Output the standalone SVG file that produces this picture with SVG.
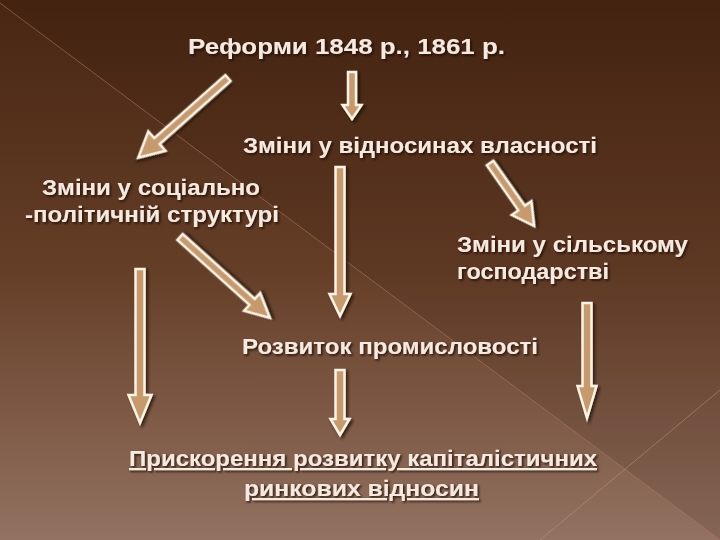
<svg xmlns="http://www.w3.org/2000/svg" width="720" height="540" viewBox="0 0 720 540">
  <defs>
    <linearGradient id="bg" x1="0" y1="0" x2="0" y2="1">
      <stop offset="0" stop-color="#472612"/>
      <stop offset="0.5" stop-color="#653e27"/>
      <stop offset="1" stop-color="#937261"/>
    </linearGradient>
    <filter id="shadow" x="-30%" y="-30%" width="160%" height="160%">
      <feDropShadow dx="2" dy="2" stdDeviation="1.5" flood-color="#1e0e04" flood-opacity="0.8"/>
    </filter>
    <filter id="tshadow" x="-10%" y="-30%" width="120%" height="160%">
      <feDropShadow dx="1.5" dy="1.5" stdDeviation="0.8" flood-color="#1a0c03" flood-opacity="0.9"/>
    </filter>
  </defs>
  <style>
    .t { font-family: "Liberation Sans", Arial, sans-serif; font-weight: bold; font-size: 22px; fill: #f6e9df; filter: url(#tshadow); }
    .arrow { fill: #c69a6c; stroke: #fff4e6; stroke-width: 2.5; stroke-linejoin: miter; filter: url(#shadow); }
  </style>
  <rect width="720" height="540" fill="url(#bg)"/>
  <polygon points="0,3 720,540 720,0 0,0" fill="#2a1205" opacity="0.12"/>
  <line x1="0" y1="3" x2="720" y2="540" stroke="#b08063" stroke-width="1" opacity="0.55"/>
  <line x1="540" y1="540" x2="720" y2="390" stroke="#c09a80" stroke-width="1" opacity="0.5"/>

  <g id="connectors">
    <path class="arrow" transform="translate(228,78) rotate(48.4)" d="M -4 0 H 4 V 95 H 13 L 0 120 L -13 95 H -4 Z"/>
    <path class="arrow" transform="translate(352,72)" d="M -4 0 H 4 V 33 H 9.5 L 0 47 L -9.5 33 H -4 Z"/>
    <path class="arrow" transform="translate(340,167)" d="M -4.5 0 H 4.5 V 127 H 10.5 L 0 149 L -10.5 127 H -4.5 Z"/>
    <path class="arrow" transform="translate(490,163) rotate(-35)" d="M -4 0 H 4 V 55 H 12 L 0 77 L -12 55 H -4 Z"/>
    <path class="arrow" transform="translate(180,237) rotate(-48)" d="M -4 0 H 4 V 97 H 12 L 0 121 L -12 97 H -4 Z"/>
    <path class="arrow" transform="translate(140,269)" d="M -4.5 0 H 4.5 V 126 H 11.5 L 0 154 L -11.5 126 H -4.5 Z"/>
    <path class="arrow" transform="translate(587,303)" d="M -4.5 0 H 4.5 V 83 H 9.5 L 0 115 L -9.5 83 H -4.5 Z"/>
    <path class="arrow" transform="translate(340,370)" d="M -4.5 0 H 4.5 V 49 H 9.5 L 0 65 L -9.5 49 H -4.5 Z"/>
  </g>

  <g id="reforms">
    <text class="t" x="188" y="54" font-size="23" textLength="317" lengthAdjust="spacingAndGlyphs">Реформи 1848 р., 1861 р.</text>
  </g>
  <g id="property">
    <text class="t" x="243" y="153" textLength="354" lengthAdjust="spacingAndGlyphs">Зміни у відносинах власності</text>
  </g>
  <g id="social">
    <text class="t" x="42" y="195" textLength="218" lengthAdjust="spacingAndGlyphs">Зміни у соціально</text>
    <text class="t" x="25" y="222" textLength="254" lengthAdjust="spacingAndGlyphs">-політичній структурі</text>
  </g>
  <g id="agriculture">
    <text class="t" x="457" y="252" textLength="231" lengthAdjust="spacingAndGlyphs">Зміни у сільському</text>
    <text class="t" x="457" y="279" textLength="152" lengthAdjust="spacingAndGlyphs">господарстві</text>
  </g>
  <g id="industry">
    <text class="t" x="242" y="354" textLength="296" lengthAdjust="spacingAndGlyphs">Розвиток промисловості</text>
  </g>
  <g id="acceleration">
    <text class="t" x="129" y="466" textLength="468" lengthAdjust="spacingAndGlyphs" text-decoration="underline">Прискорення розвитку капіталістичних</text>
    <text class="t" x="244" y="496" textLength="235" lengthAdjust="spacingAndGlyphs" text-decoration="underline">ринкових відносин</text>
  </g>
</svg>
